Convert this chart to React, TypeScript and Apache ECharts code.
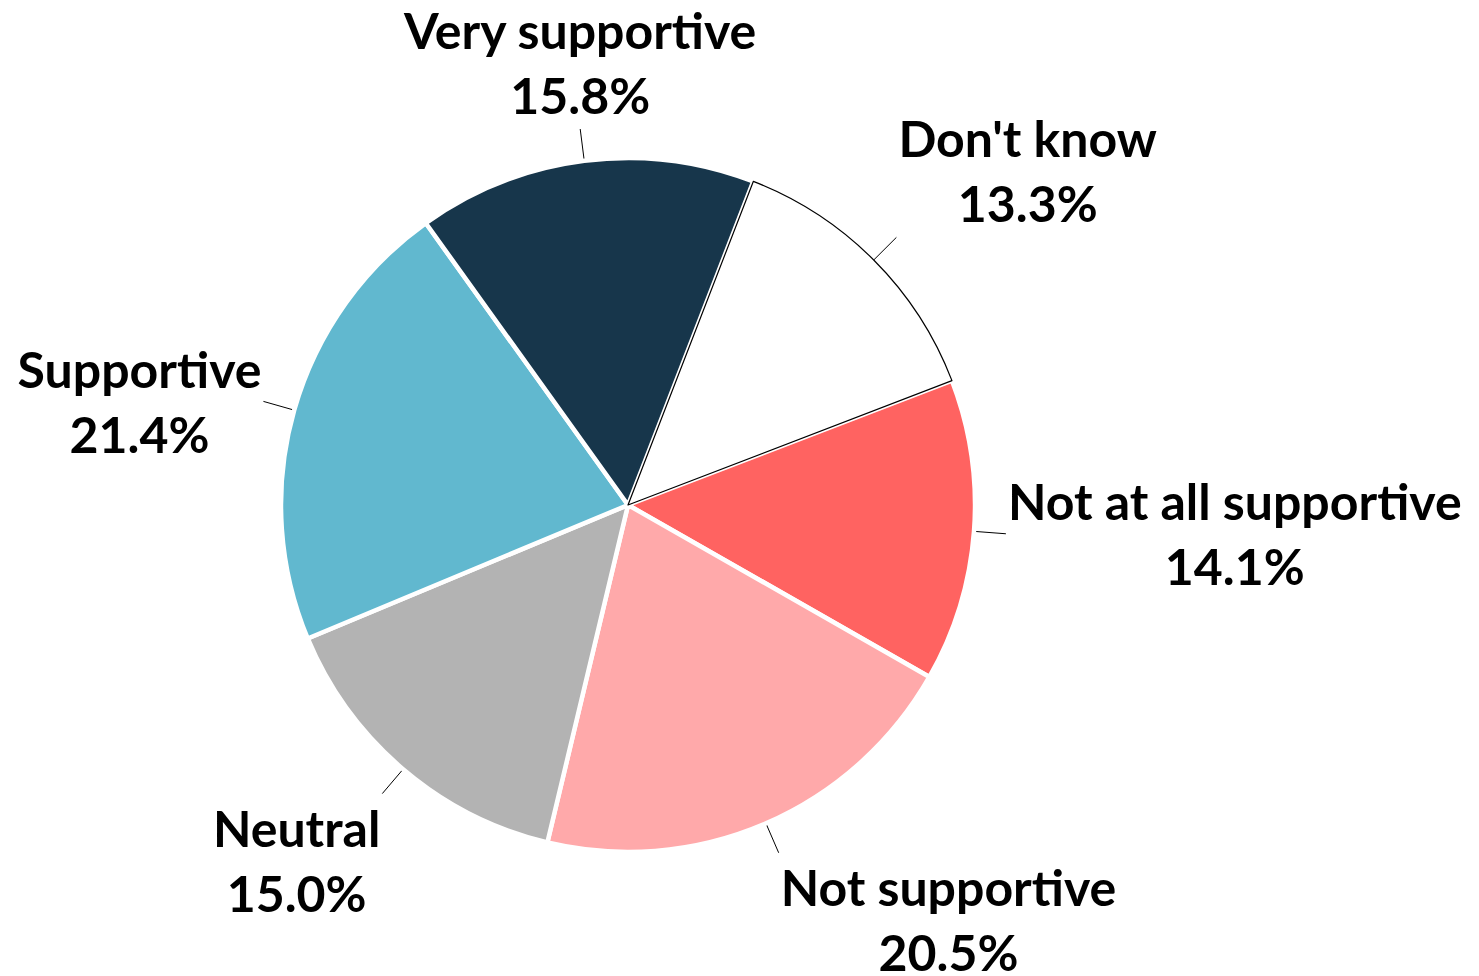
import React, { useEffect, useRef } from "react";
import * as echarts from "echarts";

const categories = [
  "Not at all supportive",
  "Not supportive",
  "Neutral",
  "Supportive",
  "Very supportive",
  "Don't know",
];
const values = [14.1, 20.5, 15.0, 21.4, 15.8, 13.3];
const colors = ["#FF6361", "#FFA9AA", "#B3B3B3", "#61B8CF", "#17364B", "#FFFFFF"];

export default function App() {
  const ref = useRef<HTMLDivElement>(null);
  useEffect(() => {
    if (!ref.current) return;
    const chart = echarts.init(ref.current, undefined, { renderer: "svg" });
    const data = categories.map((name, i) => ({
      name,
      value: values[i],
      itemStyle:
        colors[i] === "#FFFFFF"
          ? { color: colors[i], borderColor: "#000000", borderWidth: 1.2 }
          : { color: colors[i], borderColor: "#FFFFFF", borderWidth: 4.5 },
    }));
    chart.setOption({
      animation: false,
      backgroundColor: "#FFFFFF",
      series: [
        {
          type: "pie",
          center: [628, 505],
          radius: [0, 347],
          startAngle: 21,
          clockwise: true,
          avoidLabelOverlap: false,
          data,
          label: {
            show: true,
            position: "outside",
            formatter: (p: any) => `${p.name}\n${Number(p.value).toFixed(1)}%`,
            fontFamily: "Lato",
            fontWeight: "bold",
            fontSize: 50,
            lineHeight: 65,
            color: "#000000",
            align: "center",
          },
          labelLine: {
            show: true,
            length: 32,
            length2: 0,
            lineStyle: { color: "#000000", width: 1 },
          },
          labelLayout: (p: any) => {
            const pts = p.labelLinePoints;
            if (!pts) return {};
            const s = pts[0];
            const e = pts[1];
            const dx = e[0] - s[0];
            const dy = e[1] - s[1];
            const len = Math.sqrt(dx * dx + dy * dy) || 1;
            const ux = dx / len;
            const uy = dy / len;
            const ax = ux > 0.3 ? 1 : ux < -0.3 ? -1 : 0;
            const ay = uy > 0.3 ? 1 : uy < -0.3 ? -1 : 0;
            const w = p.labelRect.width;
            const h = p.labelRect.height;
            return {
              x: e[0] + ax * (w / 2 + 2),
              y: e[1] + ay * (h / 2 + 2),
              align: "center",
              verticalAlign: "middle",
              labelLinePoints: [s, e, e],
            };
          },
        },
      ],
    });
    return () => chart.dispose();
  }, []);
  return (
    <div
      ref={ref}
      style={{ position: "fixed", left: 0, top: 0, width: 1479, height: 976 }}
    />
  );
}
